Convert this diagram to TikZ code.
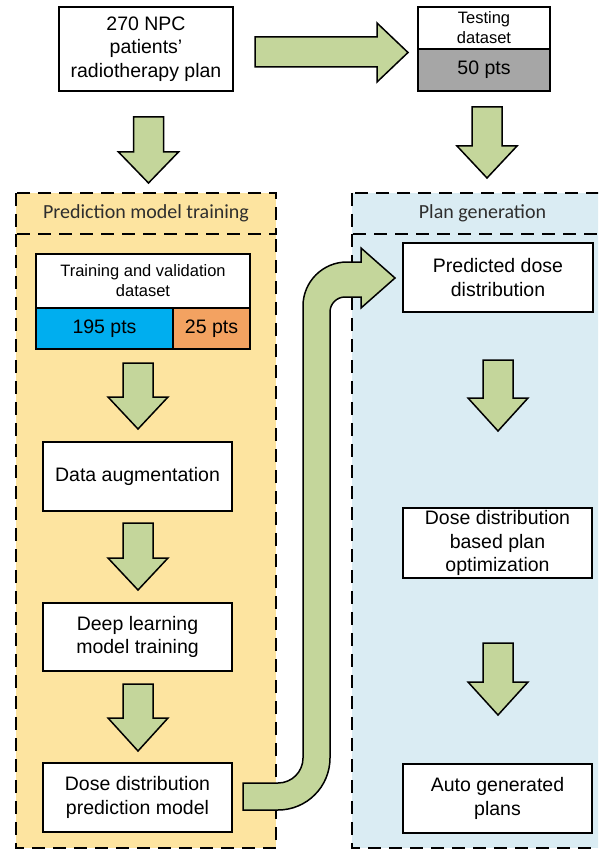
\documentclass[tikz,border=0pt]{standalone}
\usepackage{fontspec}
\setmainfont{Liberation Sans}
\newfontfamily\titlefont{Carlito}
\definecolor{arrowgreen}{RGB}{196,214,155}
\definecolor{panelgold}{RGB}{253,228,160}
\definecolor{panelblue}{RGB}{218,236,243}
\definecolor{cellblue}{RGB}{0,174,239}
\definecolor{cellorange}{RGB}{243,162,97}
\definecolor{cellgray}{RGB}{166,166,166}

% block arrow pointing down: #1 centre x, #2 top, #3 head base, #4 tip
\newcommand\blockdown[4]{%
  \draw[blockarrow] (#1-15,#2) -- (#1+15,#2) -- (#1+15,#3) -- (#1+30,#3)
    -- (#1,#4) -- (#1-30,#3) -- (#1-15,#3) -- cycle;}

\begin{document}
\begin{tikzpicture}[x=1pt,y=-1pt,
  box/.style={draw=black, line width=1.6pt, fill=white, align=center, inner sep=0pt},
  bigtext/.style={font=\fontsize{19.5}{23.5}\selectfont},
  smalltext/.style={font=\fontsize{16.5}{20}\selectfont},
  panelline/.style={line width=2pt, dash pattern=on 13pt off 8pt},
  blockarrow/.style={draw=black, line width=1.5pt, fill=arrowgreen, line join=miter},
  paneltitle/.style={font=\titlefont\fontsize{20}{24}\selectfont, text=black!82}]
\useasboundingbox (0,0) rectangle (598,850);
\clip (0,0) rectangle (598,850);

% panels: a dashed header box above an open dashed body
\fill[panelgold] (16,193) rectangle (276,848);
\draw[panelline] (16,193) rectangle (276,234);
\draw[panelline] (16,234) -- (16,848) -- (276,848) -- (276,234);
\node[paneltitle] (trainTitle) at (146,213.5) {Prediction model training};

\fill[panelblue] (352,193) rectangle (613,848);
\draw[panelline] (352,193) rectangle (613,234);
\draw[panelline] (352,234) -- (352,848) -- (613,848) -- (613,234);
\node[paneltitle] (genTitle) at (482.5,213.5) {Plan generation};

% top row
\node[box, bigtext, minimum width=174pt, minimum height=84pt] (npc) at (146,49)
  {270 NPC\\patients’\\radiotherapy plan};
\node[box, smalltext, minimum width=132pt, minimum height=42pt] (testTop) at (484,28)
  {Testing\\dataset};
\node[box, bigtext, fill=cellgray, minimum width=132pt, minimum height=42pt] (testPts) at (484,70)
  {50 pts};

% training column
\node[box, smalltext, minimum width=214pt, minimum height=54pt] (trainTop) at (143,281)
  {Training and validation\\dataset};
\node[box, bigtext, fill=cellblue, minimum width=137pt, minimum height=41pt] (trainPts) at (104.5,328.5)
  {195 pts};
\node[box, bigtext, fill=cellorange, minimum width=77pt, minimum height=41pt] (valPts) at (211.5,328.5)
  {25 pts};
\node[box, bigtext, minimum width=189pt, minimum height=69pt] (augment) at (137.5,476.5)
  {Data augmentation};
\node[box, bigtext, minimum width=189pt, minimum height=68pt] (deep) at (137.5,637)
  {Deep learning\\model training};
\node[box, bigtext, minimum width=189pt, minimum height=69pt] (model) at (137.5,797.5)
  {Dose distribution\\prediction model};

% generation column
\node[box, bigtext, minimum width=190pt, minimum height=69pt] (predicted) at (498,277.5)
  {Predicted dose\\distribution};
\node[box, bigtext, minimum width=189pt, minimum height=70pt] (optim) at (497.5,543)
  {Dose distribution\\based plan\\optimization};
\node[box, bigtext, minimum width=189pt, minimum height=69pt] (auto) at (497.5,798.5)
  {Auto generated\\plans};

% block arrows
\draw[blockarrow] (255,37) -- (377,37) -- (377,23) -- (408,52.5) -- (377,82)
  -- (377,67) -- (255,67) -- cycle;
\blockdown{148.5}{117}{152}{183}
\blockdown{487}{107}{146}{178}
\blockdown{138}{363}{397}{429}
\blockdown{138}{523}{558}{590}
\blockdown{138}{684}{718}{751}
\blockdown{498}{360}{398}{431}
\blockdown{498}{643}{682}{715}

% bent arrow from the prediction model to the predicted dose
\draw[blockarrow] (243,783) -- (278,783) arc[start angle=90, end angle=0, radius=25]
  -- (303,306) arc[start angle=180, end angle=270, radius=44]
  -- (361,262) -- (361,248) -- (395,278) -- (361,308) -- (361,297) -- (345,297)
  arc[start angle=270, end angle=180, radius=15]
  -- (330,758) arc[start angle=0, end angle=90, radius=52]
  -- (243,810) -- cycle;
\end{tikzpicture}
\end{document}
